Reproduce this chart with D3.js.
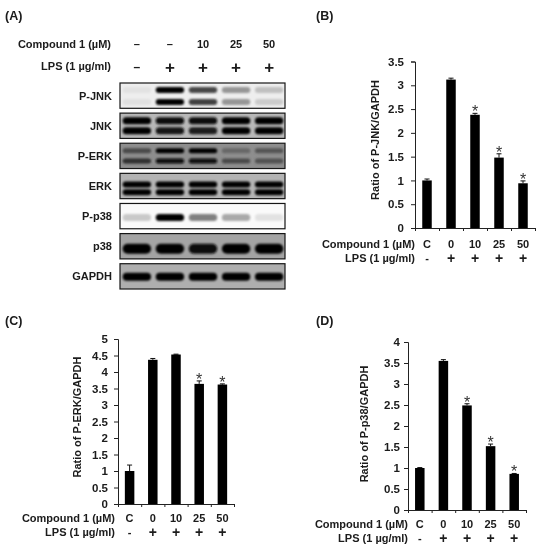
<!DOCTYPE html>
<html><head><meta charset="utf-8">
<script src="https://cdnjs.cloudflare.com/ajax/libs/d3/7.8.5/d3.min.js"></script>
<style>html,body{margin:0;padding:0;background:#fff}svg{display:block}text{font-family:"Liberation Sans",Arial,sans-serif;font-weight:bold;fill:#1a1a1a}</style>
</head><body><svg id="c" width="540" height="550"></svg>
<script>
const categories=["C","0","10","25","50"];
const lpsLabels=["-","+","+","+","+"];
const blotCompound=["–","–","10","25","50"];
const blotLps=["–","+","+","+","+"];
const valuesB=[1,3.12,2.38,1.48,0.94];
const errorsB=[0.03,0.03,0.03,0.08,0.05];
const starsB=[0,0,1,1,1];
const valuesC=[1,4.37,4.53,3.64,3.62];
const errorsC=[0.18,0.04,0.01,0.09,0.02];
const starsC=[0,0,0,1,1];
const valuesD=[1,3.55,2.49,1.52,0.86];
const errorsD=[0.01,0.03,0.04,0.05,0.01];
const starsD=[0,0,1,1,1];
const ticksB=[0,0.5,1,1.5,2,2.5,3,3.5];
const ticksC=[0,0.5,1,1.5,2,2.5,3,3.5,4,4.5,5];
const ticksD=[0,0.5,1,1.5,2,2.5,3,3.5,4];
const blotNames=["P-JNK","JNK","P-ERK","ERK","P-p38","p38","GAPDH"];
const blotBackground=["#eeeeee","#b8b8b8","#8e8e8e","#b4b4b4","#fafafa","#a4a4a4","#aeaeae"];
const upperBand=[[0.05,1,0.72,0.38,0.2],[1,.95,.95,1,1],[.5,1,1,.28,.42],[1,1,1,1,1],[0,0,0,0,0],[0,0,0,0,0],[0,0,0,0,0]];
const lowerBand=[[0.06,1,.75,.38,.15],[1,.92,.88,1,1],[.7,.95,.95,.5,.45],[1,1,1,1,1],[.2,1,.5,.33,.1],[1,1,.95,1,1],[1,1,1,1,1]];
const bandThick=[6,7,5,6,7,10,8];
const upperPos=[.28,.3,.3,.44,0,0,0];
const lowerPos=[.75,.7,.7,.75,.55,.6,.52];

const svg=d3.select("#c");
const defs=svg.append("defs");
defs.append("filter").attr("id","blur").attr("x","-20%").attr("y","-60%").attr("width","140%").attr("height","220%")
  .append("feGaussianBlur").attr("stdDeviation","1");
defs.append("filter").attr("id","txt").append("feGaussianBlur").attr("stdDeviation","0.25");

const panelLabel=(t,x,y)=>svg.append("text").attr("x",x).attr("y",y).attr("font-size",12.5).attr("filter","url(#txt)").text(t);
panelLabel("(A)",5,20);panelLabel("(B)",316,20);panelLabel("(C)",5,325);panelLabel("(D)",316,325);

// Panel A
const laneX=d3.scaleBand().domain(d3.range(5)).range([120,286]).paddingInner(0.02).paddingOuter(0.02);
const rowY=d3.scaleBand().domain(blotNames).range([83,289]).paddingInner(0.16);
const gA=svg.append("g").attr("filter","url(#txt)");
gA.append("text").attr("x",111).attr("y",48).attr("text-anchor","end").attr("font-size",11).text("Compound 1 (µM)");
gA.append("text").attr("x",111).attr("y",70).attr("text-anchor","end").attr("font-size",11).text("LPS (1 µg/ml)");
blotCompound.forEach((t,i)=>{
  const x=laneX(i)+laneX.bandwidth()/2;
  gA.append("text").attr("x",x).attr("y",48).attr("text-anchor","middle").attr("font-size",11).text(t);
  gA.append("text").attr("x",x).attr("y",blotLps[i]==="+"?73:71).attr("text-anchor","middle").attr("font-size",blotLps[i]==="+"?17:12).text(blotLps[i]);
});
blotNames.forEach((name,r)=>{
  const y=rowY(name),h=rowY.bandwidth();
  gA.append("text").attr("x",112).attr("y",y+h/2+4).attr("text-anchor","end").attr("font-size",11).text(name);
  const clip="clip"+r;
  defs.append("clipPath").attr("id",clip).append("rect").attr("x",120).attr("y",y).attr("width",165).attr("height",h);
  const g=svg.append("g").attr("clip-path",`url(#${clip})`);
  g.append("rect").attr("x",120).attr("y",y).attr("width",165).attr("height",h).attr("fill",blotBackground[r]);
  const two=upperBand[r].some(v=>v>0);
  const bandScale=d3.scaleLinear().domain([0,1]).range([blotBackground[r],"#060606"]);
  d3.range(5).forEach(i=>{
    const x=laneX(i),w=laneX.bandwidth(),t=bandThick[r];
    const ys=two?[[upperBand[r][i],y+h*upperPos[r]],[lowerBand[r][i],y+h*lowerPos[r]]]:[[lowerBand[r][i],y+h*lowerPos[r]]];
    ys.forEach(([v,cy])=>{
      g.append("rect").attr("x",x+2).attr("y",cy-t/2).attr("width",w-4).attr("height",t).attr("rx",t/2)
       .attr("fill",bandScale(v)).attr("filter","url(#blur)");
    });
  });
  svg.append("rect").attr("x",120).attr("y",y).attr("width",165).attr("height",h).attr("fill","none").attr("stroke","#161616").attr("stroke-width",1.2);
});

// Bar panels
function bars(o){
  const g=svg.append("g").attr("filter","url(#txt)");
  const y=d3.scaleLinear().domain([0,o.max]).range([o.y0,o.y1]);
  const x=d3.scaleBand().domain(categories).range([o.x0,o.x1]);
  const bw=o.bw;
  g.append("g").attr("transform",`translate(${o.x0},0)`).call(d3.axisLeft(y).tickValues(o.ticks).tickSize(4).tickFormat(d3.format("~g")))
   .call(a=>{a.select(".domain").attr("stroke","#222").attr("stroke-width",1);a.selectAll("line").attr("stroke","#222");
     a.selectAll("text").attr("font-size",11.5).attr("font-family",'"Liberation Sans",Arial,sans-serif').attr("fill","#1a1a1a").attr("x",o.tickDx);});
  g.append("g").attr("transform",`translate(0,${o.y0})`).call(d3.axisBottom(d3.scaleLinear().domain([0,5]).range([o.x0,o.x1])).ticks(5).tickSize(3).tickFormat(""))
   .call(a=>{a.select(".domain").attr("stroke","#222").attr("stroke-width",1);a.selectAll("line").attr("stroke","#222");});
  categories.forEach((c,i)=>{
    const cx=x(c)+x.bandwidth()/2,v=o.values[i],e=o.errors[i];
    g.append("line").attr("x1",cx).attr("x2",cx).attr("y1",y(v)).attr("y2",y(v+e)).attr("stroke","#111").attr("stroke-width",1);
    g.append("line").attr("x1",cx-2.5).attr("x2",cx+2.5).attr("y1",y(v+e)).attr("y2",y(v+e)).attr("stroke","#111").attr("stroke-width",1);
    g.append("rect").attr("x",cx-bw/2).attr("y",y(v)).attr("width",bw).attr("height",o.y0-y(v)).attr("fill","#000");
    if(o.stars[i]) g.append("text").attr("x",cx).attr("y",y(v+e)+4).attr("text-anchor","middle").attr("font-size",16).style("font-weight","normal").style("fill","#333").text("*");
    g.append("text").attr("x",cx).attr("y",o.y0+o.catDy).attr("text-anchor","middle").attr("font-size",11).text(c);
    g.append("text").attr("x",cx).attr("y",o.y0+o.lpsDy+(lpsLabels[i]==="+"?1:0)).attr("text-anchor","middle").attr("font-size",lpsLabels[i]==="+"?14:11).text(lpsLabels[i]);
  });
  g.append("text").attr("x",o.labelX).attr("y",o.y0+o.catDy).attr("text-anchor","end").attr("font-size",11).text("Compound 1 (µM)");
  g.append("text").attr("x",o.labelX).attr("y",o.y0+o.lpsDy).attr("text-anchor","end").attr("font-size",11).text("LPS (1 µg/ml)");
  g.append("text").attr("transform",`translate(${o.titleX},${o.titleMid}) rotate(-90)`).attr("text-anchor","middle").attr("font-size",11).text(o.title);
}
bars({x0:415,x1:535,y0:228,y1:61.5,max:3.5,ticks:ticksB,values:valuesB,errors:errorsB,stars:starsB,bw:9.5,tickDx:-11,catDy:20,lpsDy:34,labelX:415,titleX:379,titleMid:140,title:"Ratio of P-JNK/GAPDH"});
bars({x0:118,x1:234,y0:504,y1:339,max:5,ticks:ticksC,values:valuesC,errors:errorsC,stars:starsC,bw:9.5,tickDx:-10,catDy:18,lpsDy:32,labelX:115,titleX:81,titleMid:417,title:"Ratio of P-ERK/GAPDH"});
bars({x0:408,x1:526,y0:510,y1:342,max:4,ticks:ticksD,values:valuesD,errors:errorsD,stars:starsD,bw:9.5,tickDx:-8,catDy:18,lpsDy:32,labelX:408,titleX:368,titleMid:424,title:"Ratio of P-p38/GAPDH"});
</script></body></html>
